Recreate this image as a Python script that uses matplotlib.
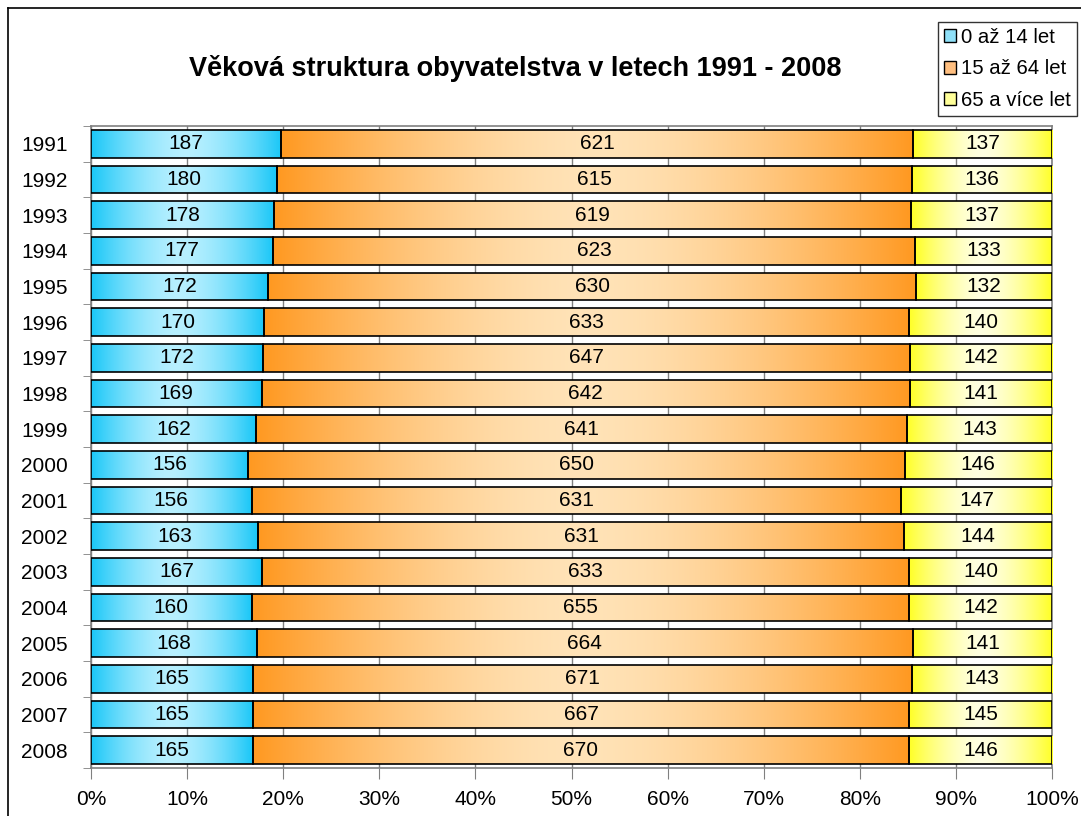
import numpy as np
from matplotlib import pyplot as plt
from matplotlib.patches import Patch
from matplotlib.lines import Line2D

plt.rcParams['font.family'] = ['Liberation Sans', 'DejaVu Sans']

years = ['1991', '1992', '1993', '1994', '1995', '1996', '1997', '1998', '1999',
         '2000', '2001', '2002', '2003', '2004', '2005', '2006', '2007', '2008']
kids = [187, 180, 178, 177, 172, 170, 172, 169, 162, 156, 156, 163, 167, 160, 168, 165, 165, 165]
adults = [621, 615, 619, 623, 630, 633, 647, 642, 641, 650, 631, 631, 633, 655, 664, 671, 667, 670]
seniors = [137, 136, 137, 133, 132, 140, 142, 141, 143, 146, 147, 144, 140, 142, 141, 143, 145, 146]
labels = ['0 až 14 let', '15 až 64 let', '65 a více let']

# (edge colour, centre colour) for the horizontal gradient of each segment
grads = [
    ((0.10, 0.78, 0.97), (0.72, 0.94, 1.00)),
    ((1.00, 0.60, 0.13), (1.00, 0.89, 0.72)),
    ((1.00, 1.00, 0.15), (1.00, 1.00, 0.88)),
]
legend_colors = ['#8fe0f8', '#ffbf80', '#ffff99']


def gradient_img(edge, centre, n=256):
    x = np.linspace(-1, 1, n)
    t = np.abs(x) ** 1.6
    img = np.zeros((1, n, 3))
    for c in range(3):
        img[0, :, c] = centre[c] + (edge[c] - centre[c]) * t
    return img


fig = plt.figure(figsize=(10.81, 8.16), dpi=100)
ax = fig.add_axes([91 / 1081, 1 - 768 / 816, (1052 - 91) / 1081, (768 - 126) / 816])

data = np.array([kids, adults, seniors], dtype=float)
pct = data / data.sum(axis=0) * 100
ypos = np.arange(len(years))
left = np.zeros(len(years))
h = 0.78

for k in range(3):
    bars = ax.barh(ypos, pct[k], left=left, height=h, color='none',
                   edgecolor='black', linewidth=1.2, zorder=4)
    img = gradient_img(*grads[k])
    for i, b in enumerate(bars):
        x0 = left[i]
        w = pct[k][i]
        im = ax.imshow(img, extent=[x0, x0 + w, ypos[i] + h / 2, ypos[i] - h / 2],
                       aspect='auto', zorder=3, interpolation='bilinear')
        im.set_clip_path(b)
        ax.text(x0 + w / 2, ypos[i], str(int(data[k][i])), ha='center', va='center',
                fontsize=15, zorder=5)
    left = left + pct[k]

ax.set_xlim(0, 100)
ax.set_ylim(len(years) - 0.5, -0.5)
ax.set_xticks(np.arange(0, 101, 10))
ax.set_xticklabels([f'{v}%' for v in range(0, 101, 10)], fontsize=15)
ax.set_yticks(ypos)
ax.set_yticklabels(years, fontsize=15)
ax.set_yticks(np.arange(-0.5, len(years), 1), minor=True)
ax.tick_params(axis='y', which='major', length=0, pad=17)
ax.tick_params(axis='y', which='minor', length=6, color='#808080')
ax.tick_params(axis='x', length=8, color='#808080', pad=8)
ax.grid(axis='x', color='#808080', linewidth=1, zorder=0)
ax.set_axisbelow(True)
for s in ax.spines.values():
    s.set_color('#808080')
    s.set_linewidth(1.2)

fig.text(515 / 1081, 1 - 68 / 816, 'Věková struktura obyvatelstva v letech 1991 - 2008',
         ha='center', va='center', fontsize=19.5, fontweight='bold')

handles = [Patch(facecolor=c, edgecolor='black') for c in legend_colors]
leg = fig.legend(handles, labels, loc='upper right', bbox_to_anchor=(1077 / 1081, 1 - 22 / 816),
                 fontsize=14.7, frameon=True, fancybox=False, edgecolor='black',
                 handlelength=0.6, handleheight=0.6, handletextpad=0.25,
                 borderpad=0.3, labelspacing=0.6, borderaxespad=0)
leg.get_frame().set_linewidth(1.0)

# outer chart frame
fig.add_artist(Line2D([8 / 1081, 8 / 1081], [0, 1 - 8 / 816], color='black', linewidth=1.2))
fig.add_artist(Line2D([8 / 1081, 1], [1 - 8 / 816, 1 - 8 / 816], color='black', linewidth=1.2))

fig.savefig('out.png', dpi=100)
